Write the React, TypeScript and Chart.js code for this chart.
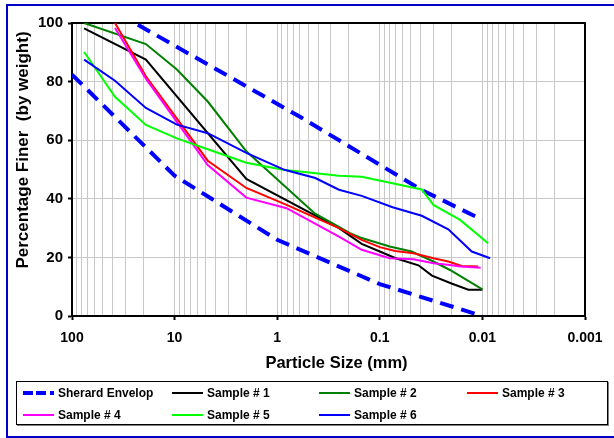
import React, { useEffect, useRef } from 'react';
import { Chart, registerables } from 'chart.js';

Chart.register(...registerables);

const FONT = '"Liberation Sans", Arial, Helvetica, sans-serif';

// Sherard envelope (two boundary lines)
const envelopeLabel = 'Sherard Envelop';
const envelopeUpperSize = [22.8, 0.6, 0.039, 0.01];
const envelopeUpperPct = [99.4, 68, 43, 32.8];
const envelopeLowerSize = [100, 10, 1, 0.1, 0.01];
const envelopeLowerPct = [82.4, 47.9, 26, 10.9, 0];

// Samples: particle size (mm) and percentage finer
const sample1Size = [76.2, 19.05, 2.0, 0.25, 0.15, 0.1, 0.07, 0.042, 0.031, 0.02, 0.0137, 0.01];
const sample1Pct = [98.2, 87.5, 46.8, 30, 24.6, 22, 19.7, 17.3, 13.8, 11.1, 9, 9];

const sample2Size = [76.2, 19.05, 9.5, 4.75, 2.0, 0.43, 0.25, 0.195, 0.15, 0.08, 0.049, 0.03, 0.0207, 0.01];
const sample2Pct = [100, 92.8, 84.1, 73.2, 56.2, 35, 30.4, 28.3, 26.6, 23.7, 22, 18.6, 15.7, 9.1];

const sample3Size = [38.1, 19.05, 4.75, 2.0, 0.81, 0.25, 0.15, 0.1, 0.071, 0.047, 0.03, 0.0215, 0.0159, 0.011];
const sample3Pct = [100, 81.8, 53, 43.7, 37.9, 30, 26, 23.5, 22.2, 21.4, 19.7, 18.6, 17.1, 16.9];

const sample4Size = [38.1, 19.05, 4.75, 2.0, 0.81, 0.25, 0.15, 0.08, 0.047, 0.03, 0.0207, 0.0164, 0.0104];
const sample4Pct = [98.3, 81, 51.5, 40.4, 36.8, 27.1, 22.6, 19.7, 19.4, 18, 17.4, 16.9, 16.5];

const sample5Size = [76.2, 38.1, 19.05, 9.5, 4.75, 2.0, 0.85, 0.6, 0.25, 0.15, 0.039, 0.03, 0.0165, 0.0088];
const sample5Pct = [90.1, 74.8, 65.2, 60.6, 56.9, 52.3, 49.8, 49.3, 47.9, 47.5, 43.2, 37.9, 32.8, 24.8];

const sample6Size = [76.2, 38.1, 19.05, 9.5, 4.75, 2.0, 0.85, 0.425, 0.25, 0.15, 0.075, 0.039, 0.0215, 0.0127, 0.0084];
const sample6Pct = [87.5, 80.3, 71, 65.3, 62.4, 55.7, 49.9, 47.1, 43.1, 41, 37.1, 34.2, 29.6, 22, 19.7];

const sampleLabels = ['Sample # 1', 'Sample # 2', 'Sample # 3', 'Sample # 4', 'Sample # 5', 'Sample # 6'];
const sampleColors = ['#000000', '#008000', '#FF0000', '#FF00FF', '#00FF00', '#0000FF'];
const envelopeColor = '#0000FF';

// Axis ticks
const xMajorTicks = [100, 10, 1, 0.1, 0.01, 0.001];
const xTickLabels = ['100', '10', '1', '0.1', '0.01', '0.001'];
const yTicks = [0, 20, 40, 60, 80, 100];

const xTitle = 'Particle Size (mm)';
const yTitle = 'Percentage Finer  (by weight)';

export default function App() {
  const ref = useRef<HTMLCanvasElement>(null);

  useEffect(() => {
    const canvas = ref.current!;
    const mk = (xs: number[], ys: number[]) => xs.map((x, i) => ({ x, y: ys[i] }));
    const sampleSizes = [sample1Size, sample2Size, sample3Size, sample4Size, sample5Size, sample6Size];
    const samplePcts = [sample1Pct, sample2Pct, sample3Pct, sample4Pct, sample5Pct, sample6Pct];

    const common = { pointRadius: 0, tension: 0, fill: false, borderCapStyle: 'butt' as const };
    const datasets: any[] = [
      { ...common, label: envelopeLabel, data: mk(envelopeUpperSize, envelopeUpperPct), borderColor: envelopeColor, borderWidth: 4, borderDash: [14, 8], order: 10 },
      { ...common, label: envelopeLabel, data: mk(envelopeLowerSize, envelopeLowerPct), borderColor: envelopeColor, borderWidth: 4, borderDash: [14, 8], order: 10 },
    ];
    sampleLabels.forEach((lab, i) => {
      datasets.push({ ...common, label: lab, data: mk(sampleSizes[i], samplePcts[i]), borderColor: sampleColors[i], borderWidth: 2, order: 7 - i });
    });

    const framePlugin = {
      id: 'frame',
      beforeDatasetsDraw(chart: any) {
        const { ctx, chartArea: a } = chart;
        ctx.save();
        ctx.strokeStyle = '#000';
        ctx.lineWidth = 2;
        ctx.beginPath();
        ctx.moveTo(a.left, a.top);
        ctx.lineTo(a.right, a.top);
        ctx.lineTo(a.right, a.bottom);
        ctx.stroke();
        ctx.restore();
      },
    };

    const isMajor = (v: number) => xMajorTicks.some((m) => Math.abs(v - m) / m < 1e-6);

    const chart = new Chart(canvas, {
      type: 'line',
      data: { datasets },
      plugins: [framePlugin],
      options: {
        animation: false,
        responsive: false,
        devicePixelRatio: 1,
        layout: { padding: { left: 0, top: 23, right: 29, bottom: 92 } },
        plugins: { legend: { display: false }, tooltip: { enabled: false } },
        scales: {
          x: {
            type: 'logarithmic',
            reverse: true,
            min: 0.001,
            max: 100,
            afterFit: (s: any) => { s.height = 30; },
            afterBuildTicks: (s: any) => {
              const t: any[] = [{ value: 100, major: true }];
              for (let e = 2; e >= -2; e--) {
                for (let m = 9; m >= 1; m--) {
                  const v = +(m * Math.pow(10, e - 1)).toPrecision(6);
                  t.push({ value: v, major: isMajor(v) });
                }
              }
              s.ticks = t;
            },
            ticks: {
              autoSkip: false,
              maxRotation: 0,
              padding: 10,
              color: '#000',
              font: { family: FONT, size: 14, weight: 'bold' },
              callback: (v: any) => {
                const idx = xMajorTicks.findIndex((m) => Math.abs(Number(v) - m) / m < 1e-6);
                return idx >= 0 ? xTickLabels[idx] : '';
              },
            },
            grid: {
              color: '#c8c8c8',
              lineWidth: 1,
              tickLength: 4,
              tickWidth: 2,
              tickColor: (c: any) => (c.tick && c.tick.major ? '#000' : 'rgba(0,0,0,0)'),
            },
            border: { color: '#000', width: 2 },
          },
          y: {
            type: 'linear',
            min: 0,
            max: 100,
            afterFit: (s: any) => { s.width = 72; },
            afterBuildTicks: (s: any) => { s.ticks = yTicks.map((v) => ({ value: v })); },
            ticks: { stepSize: 20, padding: 5, color: '#000', font: { family: FONT, size: 15, weight: 'bold' } },
            grid: { color: '#c8c8c8', lineWidth: 1, tickLength: 4, tickWidth: 2, tickColor: '#000' },
            border: { color: '#000', width: 2 },
          },
        },
      } as any,
    });
    return () => chart.destroy();
  }, []);

  const legendItems = [
    { label: envelopeLabel, color: envelopeColor, dashed: true, col: 0, row: 0 },
    ...sampleLabels.map((l, i) => ({ label: l, color: sampleColors[i], dashed: false, col: (i + 1) % 4, row: Math.floor((i + 1) / 4) })),
  ];
  const colX = [23, 172, 319, 467];
  const rowY = [392.7, 415];

  return (
    <div style={{ position: 'fixed', left: 0, top: 0, width: 614, height: 438, overflow: 'hidden', background: '#fff', fontFamily: FONT }}>
      <canvas ref={ref} width={614} height={438} style={{ position: 'absolute', left: 0, top: 0, display: 'block' }} />
      <div style={{ position: 'absolute', left: 6, top: 4, width: 700, height: 434, boxSizing: 'border-box', border: '2px solid #0000c8' }} />
      <div style={{ position: 'absolute', left: 22, top: 150, transform: 'translate(-50%, -50%) rotate(-90deg)', whiteSpace: 'pre', fontWeight: 'bold', fontSize: 17, lineHeight: 1, color: '#000' }}>{yTitle}</div>
      <div style={{ position: 'absolute', left: 336.5, top: 354.4, transform: 'translateX(-50%)', whiteSpace: 'pre', fontWeight: 'bold', fontSize: 16.5, lineHeight: 1, color: '#000' }}>{xTitle}</div>
      <div style={{ position: 'absolute', left: 16, top: 381, width: 592, height: 44, boxSizing: 'border-box', border: '1px solid #000', boxShadow: '1px 1px 0 #808080' }} />
      {legendItems.map((it, i) => (
        <React.Fragment key={i}>
          <div style={{
            position: 'absolute', left: colX[it.col], width: 31,
            top: rowY[it.row] - (it.dashed ? 2 : 1), height: it.dashed ? 4 : 2,
            background: it.dashed ? `repeating-linear-gradient(to right, ${it.color} 0px, ${it.color} 10px, transparent 10px, transparent 13.3px)` : it.color,
          }} />
          <div style={{ position: 'absolute', left: colX[it.col] + 35, top: rowY[it.row] - 5.9, fontSize: 12, fontWeight: 'bold', lineHeight: 1, whiteSpace: 'pre', color: '#000' }}>{it.label}</div>
        </React.Fragment>
      ))}
    </div>
  );
}
